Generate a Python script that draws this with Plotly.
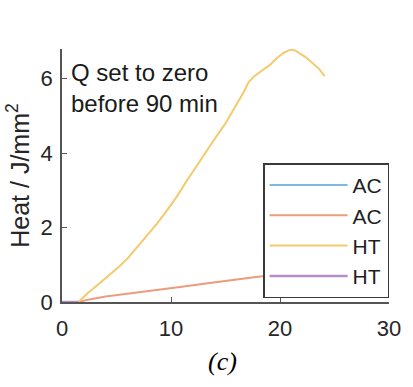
import plotly.graph_objects as go

# Data
ht_x = [1.5, 2.4, 3.4, 4.3, 5.2, 6.1, 6.9, 7.8, 8.7, 9.6, 10.5, 11.5, 12.1, 13.2, 14.0, 15.0,
        15.9, 16.7, 17.1, 17.6, 18.3, 19.1, 19.7, 20.3, 20.7, 21.0, 21.4, 21.8, 22.4, 23.0, 23.6, 24.1]
ht_y = [0.0, 0.25, 0.49, 0.72, 0.94, 1.2, 1.47, 1.78, 2.1, 2.45, 2.82, 3.28, 3.55, 4.02, 4.38, 4.8,
        5.24, 5.66, 5.9, 6.06, 6.21, 6.38, 6.55, 6.69, 6.75, 6.78, 6.76, 6.69, 6.57, 6.42, 6.26, 6.07]
ac_x = [1.5, 2.5, 4.0, 6.0, 8.7, 11.0, 13.2, 15.5, 18.0, 21.0, 24.1]
ac_y = [0.0, 0.07, 0.15, 0.22, 0.31, 0.41, 0.5, 0.59, 0.68, 0.78, 0.88]
zero_x = [0.0, 1.5]
zero_y = [0.0, 0.0]

names = ["AC", "AC", "HT", "HT"]
colors = ["#7db9e3", "#ec9c7e", "#f4ca6c", "#b68cc9"]

fig = go.Figure()
fig.add_trace(go.Scatter(x=zero_x, y=zero_y, mode="lines", name=names[0],
                         line=dict(color=colors[0], width=2)))
fig.add_trace(go.Scatter(x=ac_x, y=ac_y, mode="lines", name=names[1],
                         line=dict(color=colors[1], width=2)))
fig.add_trace(go.Scatter(x=ht_x, y=ht_y, mode="lines", name=names[2],
                         line=dict(color=colors[2], width=2)))
fig.add_trace(go.Scatter(x=zero_x, y=zero_y, mode="lines", name=names[3],
                         line=dict(color=colors[3], width=2.5)))

axis_col = "#555555"
font_fam = "Liberation Sans, Arial, sans-serif"

fig.update_layout(
    width=413, height=387,
    margin=dict(l=62, r=14, t=49, b=85),
    paper_bgcolor="white", plot_bgcolor="white",
    font=dict(family=font_fam, size=22, color="#262626"),
    showlegend=True,
    legend=dict(x=0.615, y=0.548, xanchor="left", yanchor="top",
                bordercolor="#3a3a3a", borderwidth=1.5, bgcolor="white",
                font=dict(size=21, color="#1f1f1f"), tracegroupgap=0,
                itemwidth=78),
    xaxis=dict(range=[0, 30], tickvals=[0, 10, 20, 30], showgrid=False, zeroline=False,
               showline=True, linecolor=axis_col, linewidth=1.5,
               ticks="inside", ticklen=5, tickcolor=axis_col, ticklabelstandoff=6,
               tickfont=dict(size=22, color="#262626")),
    yaxis=dict(range=[0, 6.8], tickvals=[0, 2, 4, 6], showgrid=False, zeroline=False,
               showline=True, linecolor=axis_col, linewidth=1.5,
               ticks="inside", ticklen=5, tickcolor=axis_col, ticklabelstandoff=3,
               tickfont=dict(size=22, color="#262626"),
               title=dict(text="Heat / J/mm<sup>2</sup>", font=dict(size=25, color="#262626"),
                          standoff=4)),
    annotations=[
        dict(text="Q set to zero<br>before 90 min", xref="paper", yref="paper",
             x=0.022, y=0.97, xanchor="left", yanchor="top", showarrow=False, align="left",
             font=dict(size=24, color="#1a1a1a")),
        dict(text="<i>(c)</i>", xref="paper", yref="paper", x=0.49, y=-0.17,
             xanchor="center", yanchor="top", showarrow=False,
             font=dict(family="Liberation Serif, Times New Roman, serif", size=26, color="black")),
    ],
)

fig.write_html("out.html")
